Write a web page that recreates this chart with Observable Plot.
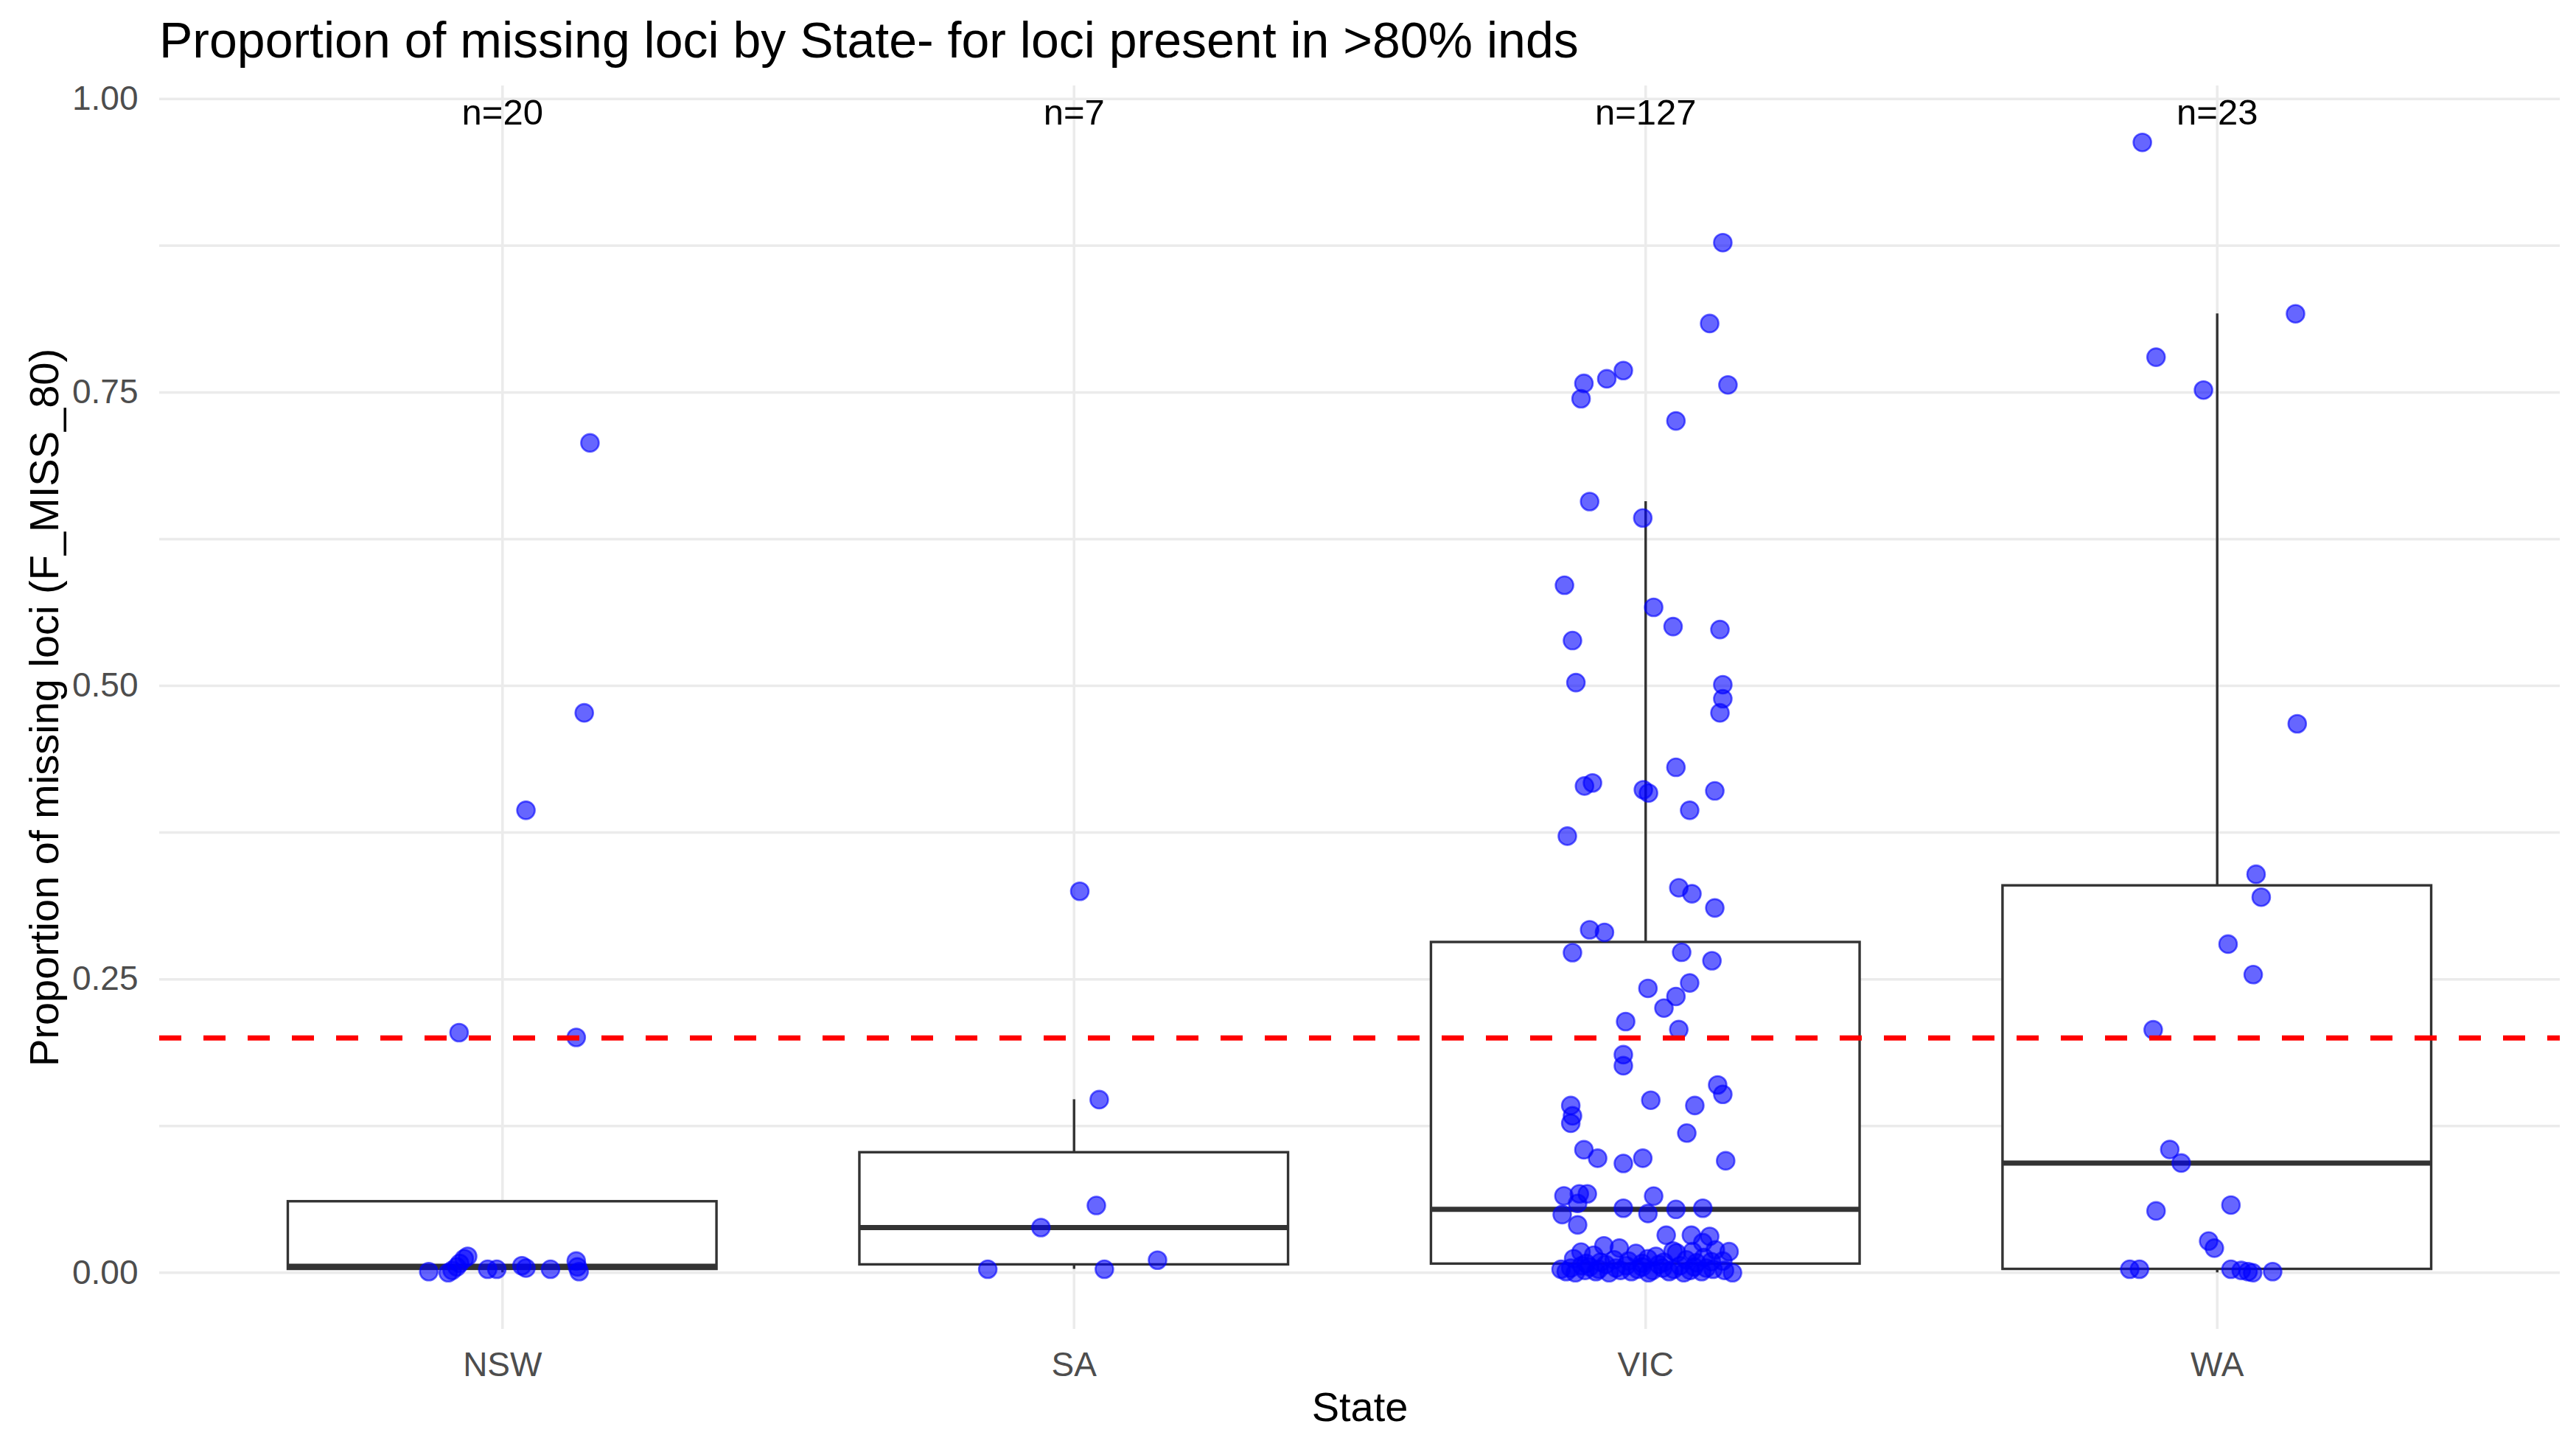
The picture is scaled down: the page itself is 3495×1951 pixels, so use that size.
<!DOCTYPE html>
<html>
<head>
<meta charset="utf-8">
<script src="https://cdn.jsdelivr.net/npm/d3@7"></script>
<script src="https://cdn.jsdelivr.net/npm/@observablehq/plot@0.6"></script>
<style>
  html, body { margin: 0; padding: 0; background: #ffffff; }
  #chart { width: 3495px; }
  #title {
    height: 100px; box-sizing: border-box; padding: 20px 0 0 216px;
    font: 68px/68px "Liberation Sans", Arial, sans-serif; color: #000000; white-space: nowrap;
  }
</style>
</head>
<body>
<div id="chart">
  <div id="title">Proportion of missing loci by State- for loci present in &gt;80% inds</div>
</div>
<script>
// States on the x axis
const states = ["NSW", "SA", "VIC", "WA"];

// F_MISS_80 per individual, with the horizontal jitter (in category units) of each point
const nswMissing = [0.707, 0.477, 0.394, 0.2046, 0.2005, 0.001, 0.000, 0.002, 0.005, 0.008,
  0.012, 0.014, 0.003, 0.003, 0.006, 0.004, 0.003, 0.010, 0.005, 0.001];
const nswJitter = [0.153, 0.143, 0.041, -0.076, 0.129, -0.129, -0.095, -0.088, -0.080, -0.075,
  -0.067, -0.061, -0.026, -0.010, 0.034, 0.041, 0.084, 0.129, 0.131, 0.134];

const saMissing = [0.325, 0.1475, 0.0573, 0.0385, 0.003, 0.003, 0.0107];
const saJitter = [0.010, 0.044, 0.039, -0.058, -0.151, 0.053, 0.146];

const vicMissing = [
  0.8776, 0.8087, 0.7686, 0.7616, 0.7577, 0.7446, 0.7564, 0.7257, 0.657, 0.643,
  0.5857, 0.5669, 0.5505, 0.548, 0.5386, 0.5028, 0.501, 0.489, 0.477, 0.4306,
  0.4173, 0.4147, 0.4115, 0.4087, 0.4105, 0.394, 0.372, 0.328, 0.3229, 0.3108,
  0.2922, 0.290, 0.2727, 0.273, 0.2658, 0.2423, 0.2469, 0.2354, 0.2255, 0.214,
  0.2072, 0.1858, 0.1764, 0.160, 0.152, 0.147, 0.1425, 0.1425, 0.1337, 0.1274,
  0.119, 0.1048, 0.0976, 0.0931, 0.0976, 0.0954, 0.0655, 0.0672, 0.0672, 0.0591,
  0.0653, 0.055, 0.0505, 0.054, 0.055, 0.0496, 0.0408, 0.032, 0.032, 0.031,
  0.0257,
  0.0176, 0.023, 0.021, 0.0165, 0.0186, 0.0195, 0.018, 0.015, 0.014, 0.018,
  0.017, 0.012, 0.011, 0.010, 0.012, 0.009, 0.011, 0.013, 0.010, 0.008,
  0.009, 0.008, 0.0085, 0.0095,
  0.003, 0.001, 0.004, 0.000, 0.006, 0.002, 0.005, 0.001, 0.003, 0.007,
  0.000, 0.004, 0.002, 0.006, 0.001, 0.003, 0.005, 0.000, 0.002, 0.007,
  0.004, 0.001, 0.003, 0.006, 0.000, 0.002, 0.005, 0.001, 0.004, 0.003,
  0.002, 0.000];
const vicJitter = [
  0.135, 0.112, -0.039, -0.068, -0.108, -0.113, 0.144, 0.053, -0.098, -0.005,
  -0.142, 0.014, 0.048, 0.130, -0.128, -0.122, 0.135, 0.135, 0.130, 0.053,
  -0.093, -0.107, -0.004, 0.005, 0.121, 0.077, -0.137, 0.058, 0.081, 0.121,
  -0.098, -0.072, -0.128, 0.063, 0.116, 0.004, 0.077, 0.053, 0.032, -0.035,
  0.058, -0.039, -0.039, 0.126, 0.135, 0.009, 0.086, -0.131, -0.128, -0.131,
  0.072, -0.108, -0.084, -0.039, -0.005, 0.140, -0.143, -0.116, -0.102, -0.119,
  0.014, -0.039, 0.004, 0.053, 0.100, -0.146, -0.119, 0.036, 0.080, 0.112,
  0.100,
  -0.113, -0.073, -0.046, -0.017, 0.048, 0.122, 0.146, -0.091, 0.018, 0.082,
  0.054, -0.126, -0.055, -0.030, 0.004, 0.032, 0.071, 0.102, 0.135, -0.104,
  -0.079, -0.006, 0.089, 0.115,
  -0.148, -0.139, -0.131, -0.123, -0.112, -0.106, -0.098, -0.087, -0.082, -0.070,
  -0.064, -0.052, -0.044, -0.034, -0.025, -0.014, -0.006, 0.005, 0.012, 0.023,
  0.030, 0.041, 0.049, 0.060, 0.067, 0.078, 0.085, 0.098, 0.106, 0.118,
  0.138, 0.152];

const waMissing = [0.963, 0.817, 0.780, 0.752, 0.4677, 0.3395, 0.320, 0.280, 0.254, 0.207,
  0.105, 0.0935, 0.0527, 0.0577, 0.027, 0.021, 0.003, 0.003, 0.003, 0.002, 0.001, 0.000, 0.001];
const waJitter = [-0.131, 0.137, -0.107, -0.024, 0.140, 0.068, 0.077, 0.019, 0.063, -0.112,
  -0.083, -0.063, -0.107, 0.024, -0.015, -0.005, -0.153, -0.136, 0.024, 0.042, 0.054, 0.062, 0.097];

// Missingness threshold and y tick values
const threshold = 0.2;
const yMajorTicks = [0, 0.25, 0.5, 0.75, 1];
const yMinorTicks = [0.125, 0.375, 0.625, 0.875];

const groups = [
  {state: "NSW", values: nswMissing, jitter: nswJitter},
  {state: "SA", values: saMissing, jitter: saJitter},
  {state: "VIC", values: vicMissing, jitter: vicJitter},
  {state: "WA", values: waMissing, jitter: waJitter}
];

// One row per individual; x position is the state index plus its jitter
const points = groups.flatMap((g, i) =>
  g.values.map((v, j) => ({state: g.state, pos: i + 1, x: i + 1 + g.jitter[j], value: v})));

// Tukey box statistics (R type-7 quantiles, whiskers at 1.5 IQR)
const boxes = groups.map((g, i) => {
  const s = g.values.slice().sort(d3.ascending);
  const q1 = d3.quantileSorted(s, 0.25);
  const median = d3.quantileSorted(s, 0.5);
  const q3 = d3.quantileSorted(s, 0.75);
  const iqr = q3 - q1;
  const lo = d3.min(s.filter(v => v >= q1 - 1.5 * iqr));
  const hi = d3.max(s.filter(v => v <= q3 + 1.5 * iqr));
  return {state: g.state, pos: i + 1, q1, median, q3, lo, hi, n: s.length};
});

const boxHalf = 0.375;
const [yLo, yHi] = d3.extent(points, d => d.value);
const yPad = 0.05 * (yHi - yLo);

const plot = Plot.plot({
  width: 3495,
  height: 1851,
  marginLeft: 216,
  marginRight: 22,
  marginTop: 16,
  marginBottom: 148,
  style: {fontFamily: "'Liberation Sans', Arial, sans-serif", color: "#4D4D4D", background: "#ffffff"},
  x: {domain: [0.4, 4.6]},
  y: {domain: [yLo - yPad, yHi + yPad]},
  marks: [
    // grid
    Plot.ruleY(yMinorTicks, {stroke: "#EBEBEB", strokeWidth: 3.5}),
    Plot.ruleY(yMajorTicks, {stroke: "#EBEBEB", strokeWidth: 3.5}),
    Plot.ruleX(boxes, {x: "pos", stroke: "#EBEBEB", strokeWidth: 3.5}),
    // whiskers
    Plot.ruleX(boxes, {x: "pos", y1: "q3", y2: "hi", stroke: "#333333", strokeWidth: 3.4}),
    Plot.ruleX(boxes, {x: "pos", y1: "lo", y2: "q1", stroke: "#333333", strokeWidth: 3.4}),
    // boxes
    Plot.rect(boxes, {x1: d => d.pos - boxHalf, x2: d => d.pos + boxHalf, y1: "q1", y2: "q3",
      fill: "#ffffff", stroke: "#333333", strokeWidth: 3.4}),
    Plot.ruleY(boxes, {y: "median", x1: d => d.pos - boxHalf, x2: d => d.pos + boxHalf,
      stroke: "#333333", strokeWidth: 7}),
    // jittered individuals
    Plot.dot(points, {x: "x", y: "value", r: 12, fill: "blue", fillOpacity: 0.6,
      stroke: "blue", strokeOpacity: 0.6, strokeWidth: 2.6}),
    // threshold
    Plot.ruleY([threshold], {stroke: "#FF0000", strokeWidth: 7, strokeDasharray: "30,30"}),
    // sample sizes
    Plot.text(boxes, {x: "pos", y: () => 1, text: d => `n=${d.n}`, lineAnchor: "top",
      fontSize: 49, fill: "#000000"}),
    // axes
    Plot.axisY({ticks: yMajorTicks, tickFormat: d3.format(".2f"), tickSize: 0, tickPadding: 29,
      fontSize: 46, label: null}),
    Plot.axisX({ticks: [1, 2, 3, 4], tickFormat: d => states[d - 1], tickSize: 0, tickPadding: 31,
      fontSize: 46, label: null}),
    Plot.text(["Proportion of missing loci (F_MISS_80)"], {frameAnchor: "left", dx: -155, rotate: -90,
      textAnchor: "middle", lineAnchor: "middle", fontSize: 56, fill: "#000000"}),
    Plot.text(["State"], {frameAnchor: "bottom", dy: 107, textAnchor: "middle", lineAnchor: "middle",
      fontSize: 56, fill: "#000000"})
  ]
});

document.getElementById("chart").appendChild(plot);
</script>
</body>
</html>
